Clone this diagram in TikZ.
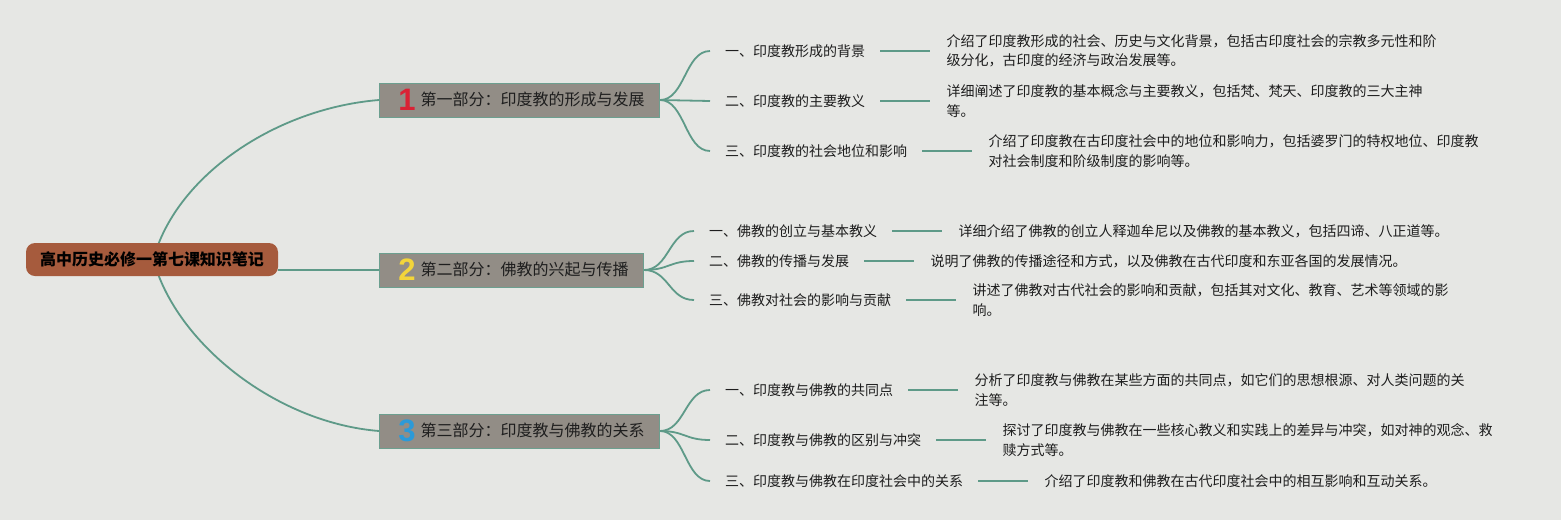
\documentclass[tikz,border=0pt]{standalone}
\usepackage{fontspec}
\setmainfont{Noto Sans CJK SC}
\newfontfamily\numfont{Liberation Sans}
\usetikzlibrary{backgrounds,calc}
\definecolor{bgc}{HTML}{E6E7E4}
\definecolor{linec}{HTML}{5E9A88}
\definecolor{rootc}{HTML}{A65B3D}
\definecolor{secc}{HTML}{928D86}
\definecolor{secb}{HTML}{6C9F8F}
\definecolor{txt}{HTML}{1E1E1E}
\definecolor{numr}{HTML}{DA2235}
\definecolor{numy}{HTML}{F3D53A}
\definecolor{numb}{HTML}{2C9AD8}
\newcommand{\secnum}[2]{\hspace*{19pt}\makebox[17pt]{\raisebox{-5pt}{\numfont\bfseries\fontsize{31}{31}\selectfont\color{#1}#2}}\hspace*{5pt}}
\begin{document}
\begin{tikzpicture}[x=1pt,y=-1pt,
 rootbox/.style={draw=none, fill=rootc, rounded corners=9pt, minimum width=252pt, minimum height=33pt, inner sep=0pt, font=\fontsize{16}{19}\selectfont\bfseries, text=black},
 secbox/.style={draw=secb, line width=1pt, fill=secc, minimum height=34pt, inner sep=0pt, anchor=west, font=\fontsize{16}{19}\selectfont, text=txt},
 topic/.style={anchor=west, inner xsep=15pt, inner ysep=0pt, font=\fontsize{14}{20}\selectfont, text=txt},
 desc/.style={anchor=west, inner xsep=16pt, inner ysep=0pt, align=left, font=\fontsize{14}{19.5}\selectfont, text=txt},
 link/.style={draw=linec, line width=1.8pt},
]
\useasboundingbox (0,0) rectangle (1561,520);

% root
\node[rootbox] (root) at (152,259.5) {高中历史必修一第七课知识笔记};

% sections
\node[secbox] (s1) at (379,100) {\secnum{numr}{1}第一部分：印度教的形成与发展\hspace*{15pt}};
\node[secbox] (s2) at (379,270) {\secnum{numy}{2}第二部分：佛教的兴起与传播\hspace*{15pt}};
\node[secbox] (s3) at (379,431) {\secnum{numb}{3}第三部分：印度教与佛教的关系\hspace*{15pt}};

% section 1 topics
\node[topic] (t11) at (710,51) {一、印度教形成的背景};
\node[topic] (t12) at (710,101) {二、印度教的主要教义};
\node[topic] (t13) at (710,151) {三、印度教的社会地位和影响};
\node[desc] (d11) at ($(t11.east)+(50,0)$) {介绍了印度教形成的社会、历史与文化背景，包括古印度社会的宗教多元性和阶\\级分化，古印度的经济与政治发展等。};
\node[desc] (d12) at ($(t12.east)+(50,0)$) {详细阐述了印度教的基本概念与主要教义，包括梵、梵天、印度教的三大主神\\等。};
\node[desc] (d13) at ($(t13.east)+(50,0)$) {介绍了印度教在古印度社会中的地位和影响力，包括婆罗门的特权地位、印度教\\对社会制度和阶级制度的影响等。};

% section 2 topics
\node[topic] (t21) at (694,231) {一、佛教的创立与基本教义};
\node[topic] (t22) at (694,261) {二、佛教的传播与发展};
\node[topic] (t23) at (694,300) {三、佛教对社会的影响与贡献};
\node[desc] (d21) at ($(t21.east)+(50,0)$) {详细介绍了佛教的创立人释迦牟尼以及佛教的基本教义，包括四谛、八正道等。};
\node[desc] (d22) at ($(t22.east)+(50,0)$) {说明了佛教的传播途径和方式，以及佛教在古代印度和东亚各国的发展情况。};
\node[desc] (d23) at ($(t23.east)+(50,0)$) {讲述了佛教对古代社会的影响和贡献，包括其对文化、教育、艺术等领域的影\\响。};

% section 3 topics
\node[topic] (t31) at (710,390) {一、印度教与佛教的共同点};
\node[topic] (t32) at (710,440) {二、印度教与佛教的区别与冲突};
\node[topic] (t33) at (710,481) {三、印度教与佛教在印度社会中的关系};
\node[desc] (d31) at ($(t31.east)+(50,0)$) {分析了印度教与佛教在某些方面的共同点，如它们的思想根源、对人类问题的关\\注等。};
\node[desc] (d32) at ($(t32.east)+(50,0)$) {探讨了印度教与佛教在一些核心教义和实践上的差异与冲突，如对神的观念、救\\赎方式等。};
\node[desc] (d33) at ($(t33.east)+(50,0)$) {介绍了印度教和佛教在古代印度社会中的相互影响和互动关系。};

\begin{pgfonlayer}{background}
\fill[bgc] (0,0) rectangle (1561,520);
% root to sections
\draw[link] ($(root.north)+(5,5)$) .. controls (185,170) and (280,108) .. (s1.west);
\draw[link] (s2.west -| root.east) -- (s2.west);
\draw[link] ($(root.south)+(5,-5)$) .. controls (185,350) and (280,423) .. (s3.west);
% section to topics
\foreach \s/\t in {s1/t11,s1/t12,s1/t13,s2/t21,s2/t22,s2/t23,s3/t31,s3/t32,s3/t33}{
  \draw[link] (\s.east) .. controls +(25,0) and +(-25,0) .. (\t.west);
}
% topic to descriptions
\foreach \t/\d in {t11/d11,t12/d12,t13/d13,t21/d21,t22/d22,t23/d23,t31/d31,t32/d32,t33/d33}{
  \draw[link] (\t.east) -- (\d.west);
}
\end{pgfonlayer}
\end{tikzpicture}
\end{document}
